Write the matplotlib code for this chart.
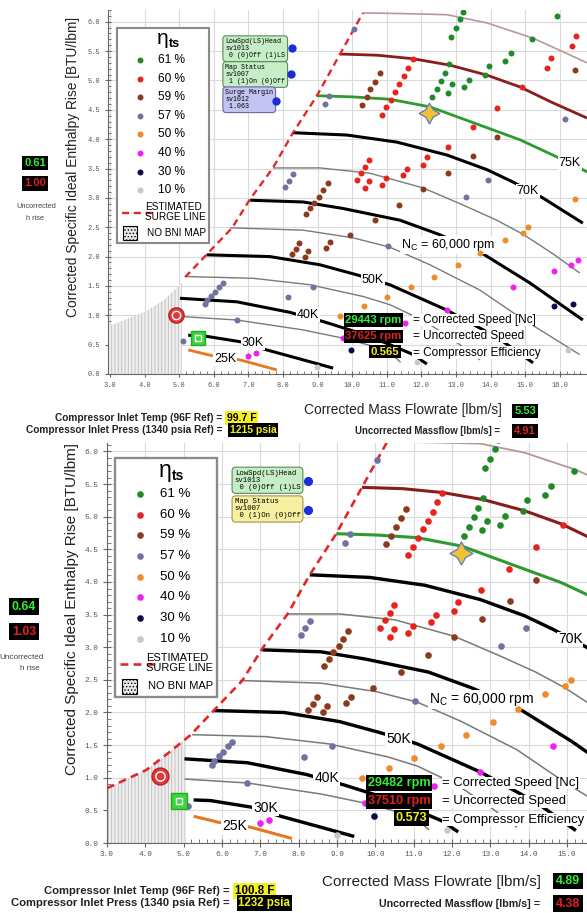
import matplotlib
matplotlib.use("Agg")
import matplotlib.pyplot as plt
from matplotlib.patches import Rectangle
from matplotlib.ticker import MultipleLocator, FormatStrFormatter

SANS = ['Liberation Sans', 'DejaVu Sans']
MONO = ['Liberation Mono', 'DejaVu Sans Mono']

plt.rcParams['font.family'] = SANS
plt.rcParams['mathtext.fontset'] = 'custom'
plt.rcParams['mathtext.rm'] = 'Liberation Sans'
plt.rcParams['mathtext.it'] = 'Liberation Sans:italic'
plt.rcParams['mathtext.bf'] = 'Liberation Sans:bold'
plt.rcParams['hatch.linewidth'] = 0.6

### DATA ###
eff_labels = ["61 %", "60 %", "59 %", "57 %", "50 %", "40 %", "30 %", "10 %"]
eff_colors = ['#1f8a2a', '#e8231c', '#8b3a1e', '#7272a0', '#f08a2a', '#f020f0', '#0a0a50', '#c8c8c8']

# measured points: corrected massflow [lbm/s], corrected enthalpy rise [BTU/lbm]
eff61_x = [13.21, 13.12, 12.99, 12.85, 15.91, 15.19, 14.59, 14.42, 13.95, 13.84, 12.81, 12.68, 12.57,
           12.44, 12.30, 12.90, 12.78, 13.38, 13.24]
eff61_y = [6.17, 6.04, 5.89, 5.74, 6.10, 5.70, 5.47, 5.33, 5.25, 5.09, 5.28, 5.13, 4.99,
           4.85, 4.71, 4.94, 4.79, 5.01, 4.88]
eff60_x = [11.75, 11.62, 11.50, 11.36, 11.24, 11.11, 10.98, 10.85, 14.90, 15.62, 15.74, 16.35, 16.47, 14.19,
           13.48, 12.76, 12.15, 12.06, 11.58, 11.46, 10.98, 10.85, 10.49, 10.37, 10.25, 10.13, 10.49, 10.37]
eff60_y = [5.36, 5.22, 5.08, 4.94, 4.81, 4.67, 4.54, 4.41, 4.88, 5.22, 5.38, 5.59, 5.75, 4.53,
           4.20, 3.87, 3.70, 3.56, 3.50, 3.39, 3.33, 3.22, 3.65, 3.53, 3.42, 3.30, 3.28, 3.16]
eff59_x = [10.80, 10.66, 10.53, 10.42, 10.27, 16.44, 14.18, 13.50, 12.78, 12.06, 11.36, 9.29, 9.16,
           9.04, 8.90, 8.78, 8.66, 10.66, 9.94, 8.47, 8.38, 8.25, 8.73, 8.64, 9.36, 9.24]
eff59_y = [5.12, 4.98, 4.85, 4.71, 4.58, 5.18, 4.03, 3.71, 3.43, 3.15, 2.88, 3.25, 3.13,
           3.02, 2.92, 2.82, 2.72, 2.62, 2.37, 2.23, 2.13, 2.04, 2.10, 2.00, 2.24, 2.14]
eff57_x = [10.05, 9.34, 9.21, 16.15, 13.93, 13.28, 8.30, 8.17, 8.06, 11.04, 8.88, 8.15, 6.66, 5.10,
           6.27, 6.16, 6.03, 5.91, 5.79, 5.75]
eff57_y = [5.87, 4.74, 4.60, 4.34, 3.30, 3.02, 3.40, 3.29, 3.18, 2.18, 1.49, 1.32, 0.92, 0.57,
           1.55, 1.48, 1.40, 1.33, 1.26, 1.19]
eff50_x = [16.44, 15.09, 14.95, 14.42, 13.71, 13.07, 12.37, 11.70, 11.01, 10.35, 9.65]
eff50_y = [2.98, 2.50, 2.41, 2.28, 2.06, 1.86, 1.66, 1.48, 1.31, 1.15, 0.99]
eff40_x = [16.53, 16.34, 15.83, 14.64, 12.73, 11.53, 9.74, 6.98, 7.22]
eff40_y = [1.94, 1.86, 1.75, 1.49, 1.09, 0.87, 0.62, 0.31, 0.35]
eff30_x = [15.83, 16.39, 9.97]
eff30_y = [1.16, 1.20, 0.41]
eff10_x = [16.25, 11.88, 8.99]
eff10_y = [0.41, 0.20, 0.12]

eff_x = [eff61_x, eff60_x, eff59_x, eff57_x, eff50_x, eff40_x, eff30_x, eff10_x]
eff_y = [eff61_y, eff60_y, eff59_y, eff57_y, eff50_y, eff40_y, eff30_y, eff10_y]

# corrected speed lines
n85_x = [10.31, 11.38, 12.74, 13.90, 15.23, 16.09, 16.79]
n85_y = [6.15, 6.14, 6.12, 5.98, 5.72, 5.49, 5.30]
n80_x = [9.65, 10.72, 11.76, 12.83, 13.90, 14.85, 15.80, 16.79]
n80_y = [5.45, 5.43, 5.37, 5.26, 5.09, 4.89, 4.62, 4.36]
n75_x = [8.98, 10.02, 11.09, 12.25, 13.69, 14.85, 15.80, 16.58, 16.79]
n75_y = [4.74, 4.72, 4.68, 4.55, 4.24, 3.99, 3.73, 3.51, 3.44]
n70_x = [8.29, 9.85, 11.29, 12.74, 13.90, 14.65, 15.51, 16.67]
n70_y = [4.11, 4.07, 3.95, 3.73, 3.48, 3.27, 3.00, 2.57]
n65_x = [7.71, 9.07, 10.51, 12.05, 13.20, 14.18, 14.94, 15.80, 16.58]
n65_y = [3.51, 3.51, 3.42, 3.17, 2.88, 2.62, 2.38, 2.05, 1.72]
n60_x = [7.05, 8.58, 9.73, 10.80, 11.38, 12.50, 13.69, 15.14, 16.67]
n60_y = [2.96, 2.93, 2.82, 2.69, 2.62, 2.38, 2.08, 1.55, 0.92]
n55_x = [6.47, 8.58, 10.02, 11.09, 12.25, 13.69, 14.94, 15.63, 16.58]
n55_y = [2.49, 2.45, 2.32, 2.16, 1.86, 1.43, 0.93, 0.68, 0.33]
n50_x = [5.79, 7.62, 9.07, 10.13, 11.09, 12.73, 14.20, 15.23]
n50_y = [2.03, 2.00, 1.86, 1.69, 1.52, 1.09, 0.62, 0.19]
n45_x = [5.22, 7.14, 8.78, 10.32, 11.09, 12.10, 13.00, 13.69]
n45_y = [1.66, 1.63, 1.52, 1.32, 1.18, 0.90, 0.55, 0.24]
n40_x = [5.02, 6.66, 8.20, 9.18, 9.94, 10.31, 11.01, 11.73, 12.16]
n40_y = [1.29, 1.23, 1.05, 0.89, 0.75, 0.67, 0.52, 0.34, 0.17]
n35_x = [5.02, 6.66, 8.59, 9.74, 11.00, 11.40]
n35_y = [0.98, 0.92, 0.75, 0.61, 0.41, 0.20]
n30_x = [5.26, 5.70, 6.76, 7.53, 8.59, 9.45]
n30_y = [0.66, 0.65, 0.55, 0.41, 0.24, 0.10]
n25_x = [5.26, 5.89, 6.76, 7.82]
n25_y = [0.41, 0.32, 0.24, 0.07]

speed_x = [n85_x, n80_x, n75_x, n70_x, n65_x, n60_x, n55_x, n50_x, n45_x, n40_x, n35_x, n30_x, n25_x]
speed_y = [n85_y, n80_y, n75_y, n70_y, n65_y, n60_y, n55_y, n50_y, n45_y, n40_y, n35_y, n30_y, n25_y]
speed_style = [('#b49a9a', 1.2), ('#8b1c1c', 2.0), ('#2f9a2f', 2.0), ('black', 2.2), ('#7a7a7a', 1.0),
               ('black', 2.2), ('#7a7a7a', 1.0), ('black', 2.2), ('#7a7a7a', 1.0), ('black', 2.2),
               ('#7a7a7a', 1.0), ('black', 2.2), ('#e87722', 2.0)]

speed_labels = ["75K", "70K", "N$_{\\rm C}$ = 60,000 rpm", "50K", "40K", "30K", "25K"]
speed_label_x = [16.29, 15.08, 12.77, 10.60, 8.73, 7.13, 6.32]
speed_label_y = [3.59, 3.12, 2.20, 1.60, 1.00, 0.53, 0.26]

# estimated surge line
surge_x = [5.17, 5.80, 6.53, 7.05, 7.71, 8.29, 8.98, 9.65, 10.31]
surge_y = [1.65, 2.04, 2.49, 2.98, 3.51, 4.11, 4.74, 5.45, 6.15]
surge_low_x = [3.00, 4.03, 4.60, 5.17]
surge_low_y = [0.84, 1.12, 1.38, 1.65]

# no BNI map region upper edge
nobni_top_x = [2.94, 4.01, 4.60, 5.07]
nobni_top_y = [0.81, 1.06, 1.28, 1.55]
nobni_bot_x = [3.00, 4.03, 4.60, 5.05]
nobni_bot_y = [0.84, 1.12, 1.38, 1.60]

design_pt = (12.23, 4.44)

# the two snapshots
snap = [
    dict(corr=(5.53, 0.61), unc=(4.91, 1.00), nc="29443 rpm", n="37625 rpm", eff="0.565",
         hc="0.61", hu="1.00", mc="5.53", mu="4.91", temp="99.7 F", press="1215 psia",
         map_status=" 1 (1)On (0)Off", surge_margin="1.063"),
    dict(corr=(4.89, 0.64), unc=(4.38, 1.03), nc="29482 rpm", n="37510 rpm", eff="0.573",
         hc="0.64", hu="1.03", mc="4.89", mu="4.38", temp="100.8 F", press="1232 psia",
         map_status=" 0 (1)On (0)Off", surge_margin=None),
]

### PLOTTING ###
W, H = 587.0, 913.0
fig = plt.figure(figsize=(W / 100, H / 100), dpi=100)
fig.patch.set_facecolor('white')


def ftext(px, py, s, **kw):
    return fig.text(px / W, 1 - py / H, s, **kw)


def draw_map(ax, s, d, xlim, ylim, hx, hy, low_surge):
    ax.set_xlim(*xlim)
    ax.set_ylim(*ylim)
    ax.set_facecolor('white')
    ax.xaxis.set_major_locator(MultipleLocator(1))
    ax.xaxis.set_minor_locator(MultipleLocator(0.2))
    ax.yaxis.set_major_locator(MultipleLocator(0.5))
    ax.yaxis.set_minor_locator(MultipleLocator(0.1))
    ax.xaxis.set_major_formatter(FormatStrFormatter('%.1f'))
    ax.yaxis.set_major_formatter(FormatStrFormatter('%.1f'))
    ax.grid(True, which='major', color='#dadada', lw=0.8)
    ax.set_axisbelow(True)
    ax.tick_params(which='major', direction='inout', length=5 * s, width=0.8, color='#666666',
                   labelsize=5 * s, labelcolor='#555555', labelfontfamily=MONO, pad=3 * s)
    ax.tick_params(which='minor', direction='in', length=2.5 * s, width=0.6, color='#666666')
    for sp in ['top', 'right']:
        ax.spines[sp].set_visible(False)
    for sp in ['left', 'bottom']:
        ax.spines[sp].set_color('#666666')

    # NO BNI MAP region
    ax.fill_between(hx, 0, hy, facecolor='#eeeeee', edgecolor='#bdbdbd', hatch='|||||', lw=0, zorder=1)

    # speed lines
    for lx, ly, (c, w) in zip(speed_x, speed_y, speed_style):
        ax.plot(lx, ly, color=c, lw=w * s, solid_capstyle='butt', zorder=3)
    for lab, lx, ly in zip(speed_labels, speed_label_x, speed_label_y):
        if lx > xlim[1]:
            continue
        ax.text(lx, ly, lab, ha='center', va='center', fontsize=9.0 * s, zorder=4, clip_on=True,
                bbox=dict(facecolor='white', edgecolor='none', pad=0.6))

    # surge line
    sx = (surge_low_x[:-1] + surge_x) if low_surge else surge_x
    sy = (surge_low_y[:-1] + surge_y) if low_surge else surge_y
    ax.plot(sx, sy, color='#e02828', lw=1.7 * s, dashes=(3, 2), zorder=4)

    # efficiency points
    for px_, py_, c in zip(eff_x, eff_y, eff_colors):
        ax.plot(px_, py_, 'o', ms=4.3 * s, color=c, mec='none', zorder=5)

    # design point star
    ax.plot(*design_pt, marker=(4, 1, 0), ms=15 * s, mfc='#f2c232', mec='#6b7fb8', mew=1, zorder=6)

    # current operating point: uncorrected (red target) and corrected (green square)
    ax.plot(*d['unc'], 'o', ms=11 * s, mfc='#e23a3a', mec='#c02020', zorder=6)
    ax.plot(*d['unc'], 'o', ms=6 * s, mfc='none', mec='white', mew=1, zorder=6)
    ax.plot(*d['corr'], 's', ms=10 * s, mfc='#3ad83a', mec='#22aa22', zorder=6)
    ax.plot(*d['corr'], 's', ms=4.5 * s, mfc='none', mec='white', mew=1, zorder=6)

    # readouts inside the map
    box = dict(boxstyle='square,pad=0.15', facecolor='black', edgecolor='none')
    ax.text(11.43, 0.92, d['nc'], color='#33ee33', fontsize=8.2 * s, weight='bold',
            ha='right', va='center', bbox=box, zorder=7)
    ax.text(11.43, 0.64, d['n'], color='#e02020', fontsize=8.2 * s, weight='bold',
            ha='right', va='center', bbox=box, zorder=7)
    ax.text(11.35, 0.38, d['eff'], color='#f0f020', fontsize=8.2 * s, weight='bold',
            ha='right', va='center', bbox=box, zorder=7)
    wbox = dict(facecolor='white', edgecolor='none', pad=0.3)
    ax.text(11.75, 0.92, "= Corrected Speed [Nc]", fontsize=8.5 * s, va='center', bbox=wbox, zorder=6.5)
    ax.text(11.75, 0.64, "= Uncorrected Speed", fontsize=8.5 * s, va='center', bbox=wbox, zorder=6.5)
    ax.text(11.75, 0.36, "= Compressor Efficiency", fontsize=8.5 * s, va='center', bbox=wbox, zorder=6.5)

    # shared-variable boxes
    info = [("LowSpd(LS)Head\nsv1013\n 0 (0)Off (1)LS", 5.72, '#c6eec6', '#5a8a5a', 8.25, 5.55),
            ("Map Status\nsv1007\n" + d['map_status'], 5.28, '#c6eec6' if d['surge_margin'] else '#f6f0a0',
             '#5a8a5a' if d['surge_margin'] else '#9a9a50', 8.23, 5.11)]
    if d['surge_margin']:
        info.append(("Surge Margin\nsv1012\n " + d['surge_margin'], 4.85, '#c4c4f2', '#6a6aa0', 7.80, 4.65))
    for txt, ty, fc, ec, dx, dy in info:
        ax.text(6.33, ty, txt, family=MONO, fontsize=4.8 * s, ha='left', va='top', linespacing=1.0,
                bbox=dict(boxstyle='round,pad=0.35,rounding_size=0.5', facecolor=fc, edgecolor=ec, lw=0.8),
                zorder=7)
        ax.plot(dx, dy, 'o', ms=5 * s, color='#1a2ed8', zorder=8)

    # legend
    ax.add_patch(Rectangle((3.21, 2.23), 2.65, 3.67, facecolor='white', edgecolor='#8a8a8a',
                           lw=1.5 * s, zorder=8))
    ax.text(4.52, 5.71, "η", fontsize=15 * s, ha='center', va='center', zorder=9)
    ax.text(4.70, 5.62, "ts", fontsize=9 * s, weight='bold', ha='left', va='center', zorder=9)
    for i, (lab, c) in enumerate(zip(eff_labels, eff_colors)):
        yy = 5.35 - i * 0.317
        ax.plot(3.87, yy, 'o', ms=4.3 * s, color=c, mec='none', zorder=9)
        ax.text(4.39, yy, lab, fontsize=8.6 * s, va='center', zorder=9)
    ax.plot([3.35, 4.30], [2.75, 2.75], color='#e02828', lw=1.7 * s, dashes=(3, 2), zorder=9)
    ax.text(4.02, 2.76, "ESTIMATED\nSURGE LINE", fontsize=7.2 * s, va='center', linespacing=0.95, zorder=9)
    ax.add_patch(Rectangle((3.38, 2.28), 0.40, 0.24, facecolor='#e6e6e6', edgecolor='black',
                           hatch='.....', lw=0.8, zorder=9))
    ax.text(4.07, 2.40, "NO BNI MAP", fontsize=7.2 * s, va='center', zorder=9)


ax_top = fig.add_axes([108 / W, 1 - 374 / H, 479 / W, 364 / H])
ax_bot = fig.add_axes([107 / W, 1 - 843 / H, 480 / W, 400 / H])
draw_map(ax_top, 1.0, snap[0], (2.94, 16.79), (0, 6.2), nobni_top_x, nobni_top_y, False)
draw_map(ax_bot, 1.11, snap[1], (3.0, 15.52), (0, 6.13), nobni_bot_x, nobni_bot_y, True)

# readouts outside the maps
layout = [
    dict(s=1.0, ylab=(73, 167), xlab=(403, 410), hc=(35, 163), hu=(35, 183.5), unc1=(36, 207), unc2=(35, 218),
         mc=(525, 411), mu=(525, 431), mu_txt=(500, 431), inlet_r=222, t_y=418, p_y=430, box_l=227),
    dict(s=1.11, ylab=(72, 609), xlab=(432, 882), hc=(24, 606.5), hu=(24, 631.5), unc1=(22, 657), unc2=(30, 668),
         mc=(568, 881), mu=(568, 903.5), mu_txt=(540, 904), inlet_r=230, t_y=891, p_y=903, box_l=235),
]
for d, L in zip(snap, layout):
    s = L['s']
    box = dict(boxstyle='square,pad=0.2', facecolor='black', edgecolor='none')
    ftext(*L['ylab'], "Corrected Specific Ideal Enthalpy Rise [BTU/lbm]", rotation=90, ha='center',
          va='center', fontsize=9.9 * s, color='#222222')
    ftext(*L['xlab'], "Corrected Mass Flowrate [lbm/s]", ha='center', va='center', fontsize=9.9 * s,
          color='#222222')
    ftext(*L['hc'], d['hc'], color='#33ee33', fontsize=8 * s, weight='bold', ha='center',
          va='center', bbox=box)
    ftext(*L['hu'], d['hu'], color='#e02020', fontsize=8 * s, weight='bold', ha='center',
          va='center', bbox=box)
    ftext(*L['unc1'], "Uncorrected", fontsize=5.3 * s, color='#444444', ha='center', va='center')
    ftext(*L['unc2'], "h rise", fontsize=5.3 * s, color='#444444', ha='center', va='center')
    ftext(*L['mc'], d['mc'], color='#33ee33', fontsize=8 * s, weight='bold', ha='center',
          va='center', bbox=box)
    ftext(*L['mu'], d['mu'], color='#e02020', fontsize=8 * s, weight='bold', ha='center',
          va='center', bbox=box)
    ftext(*L['mu_txt'], "Uncorrected Massflow [lbm/s] =", fontsize=6.9 * s, weight='bold',
          color='#222222', ha='right', va='center')
    ftext(L['inlet_r'], L['t_y'], "Compressor Inlet Temp (96F Ref) =", fontsize=7.3 * s,
          weight='bold', color='#222222', ha='right', va='center')
    ftext(L['inlet_r'], L['p_y'], "Compressor Inlet Press (1340 psia Ref) =", fontsize=7.3 * s,
          weight='bold', color='#222222', ha='right', va='center')
    ftext(L['box_l'], L['t_y'], d['temp'], fontsize=7.5 * s, weight='bold', color='black',
          ha='left', va='center', bbox=dict(boxstyle='square,pad=0.15', facecolor='#f4f020', edgecolor='none'))
    ftext(L['box_l'] + 3 * s, L['p_y'], d['press'], fontsize=7.5 * s, weight='bold',
          color='#f4f020', ha='left', va='center', bbox=dict(boxstyle='square,pad=0.15', facecolor='black',
                                                              edgecolor='none'))

fig.savefig("out.png", dpi=100)
